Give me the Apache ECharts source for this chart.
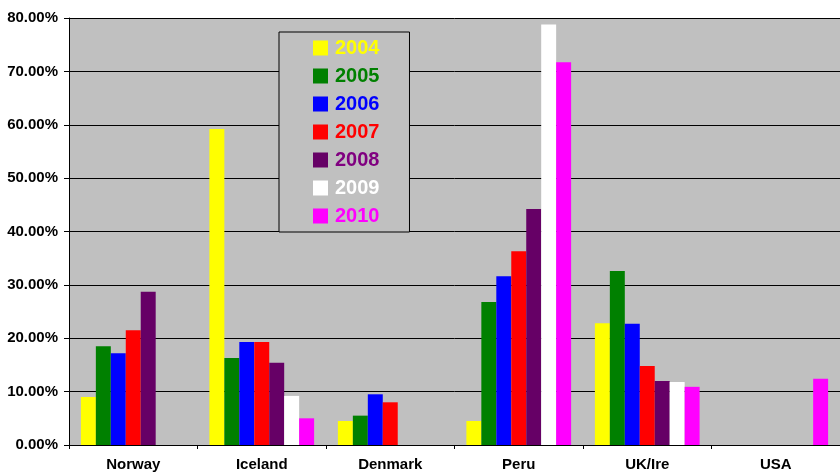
<!DOCTYPE html>
<html>
<head>
<meta charset="utf-8">
<script src="https://cdn.jsdelivr.net/npm/echarts@6/dist/echarts.min.js"></script>
<style>
  html, body { margin: 0; padding: 0; background: #fff; }
  #main { width: 840px; height: 474px; }
</style>
</head>
<body>
<div id="main"></div>
<script>
// categories and yearly shares (%)
var countries = ['Norway', 'Iceland', 'Denmark', 'Peru', 'UK/Ire', 'USA'];
var years = ['2004', '2005', '2006', '2007', '2008', '2009', '2010'];
var colors = ['#FFFF00', '#008000', '#0000FF', '#FF0000', '#660066', '#FFFFFF', '#FF00FF'];
var textColors = ['#FFFF00', '#008000', '#0000FF', '#FF0000', '#800080', '#FFFFFF', '#FF00FF'];

var v2004 = [9.0, 59.2, 4.5, 4.5, 22.8, null];
var v2005 = [18.5, 16.3, 5.5, 26.8, 32.6, null];
var v2006 = [17.2, 19.3, 9.5, 31.6, 22.7, null];
var v2007 = [21.5, 19.3, 8.0, 36.3, 14.8, null];
var v2008 = [28.7, 15.4, null, 44.2, 12.0, null];
var v2009 = [null, 9.2, null, 78.8, 11.8, null];
var v2010 = [null, 5.0, null, 71.7, 10.9, 12.4];
var yearValues = [v2004, v2005, v2006, v2007, v2008, v2009, v2010];

var chart = echarts.init(document.getElementById('main'));

var series = years.map(function (y, i) {
  return {
    name: y,
    type: 'bar',
    data: yearValues[i],
    barGap: '0%',
    barCategoryGap: '18.5%',
    itemStyle: { color: colors[i] }
  };
});

var option = {
  backgroundColor: '#ffffff',
  animation: false,
  textStyle: { fontFamily: 'Liberation Sans, Arial, sans-serif' },
  grid: {
    left: 69,
    right: -6,
    top: 18,
    bottom: 29,
    show: true,
    backgroundColor: '#C0C0C0',
    borderWidth: 0
  },
  legend: {
    orient: 'vertical',
    left: 279,
    top: 32,
    padding: [6, 30, 6, 34],
    backgroundColor: '#C0C0C0',
    borderColor: '#000000',
    borderWidth: 1,
    itemWidth: 15,
    itemHeight: 15,
    itemGap: 8,
    icon: 'rect',
    data: years.map(function (y, i) {
      return {
        name: y,
        textStyle: { color: textColors[i], fontSize: 20, fontWeight: 'bold', padding: [0, 0, 0, 2] }
      };
    })
  },
  xAxis: {
    type: 'category',
    data: countries,
    axisLine: { lineStyle: { color: '#000', width: 1 } },
    axisTick: { show: true, length: 4, lineStyle: { color: '#000' } },
    axisLabel: {
      color: '#000',
      fontSize: 15,
      fontWeight: 'bold',
      margin: 12
    }
  },
  yAxis: {
    type: 'value',
    min: 0,
    max: 80,
    interval: 10,
    axisLine: { show: true, lineStyle: { color: '#000', width: 1 } },
    axisTick: { show: true, length: 5, lineStyle: { color: '#000' } },
    splitLine: { show: true, lineStyle: { color: '#000', width: 1 } },
    axisLabel: {
      color: '#000',
      fontSize: 15,
      fontWeight: 'bold',
      margin: 11,
      formatter: function (v) { return v.toFixed(2) + '%'; }
    }
  },
  series: series
};

chart.setOption(option);
</script>
</body>
</html>
